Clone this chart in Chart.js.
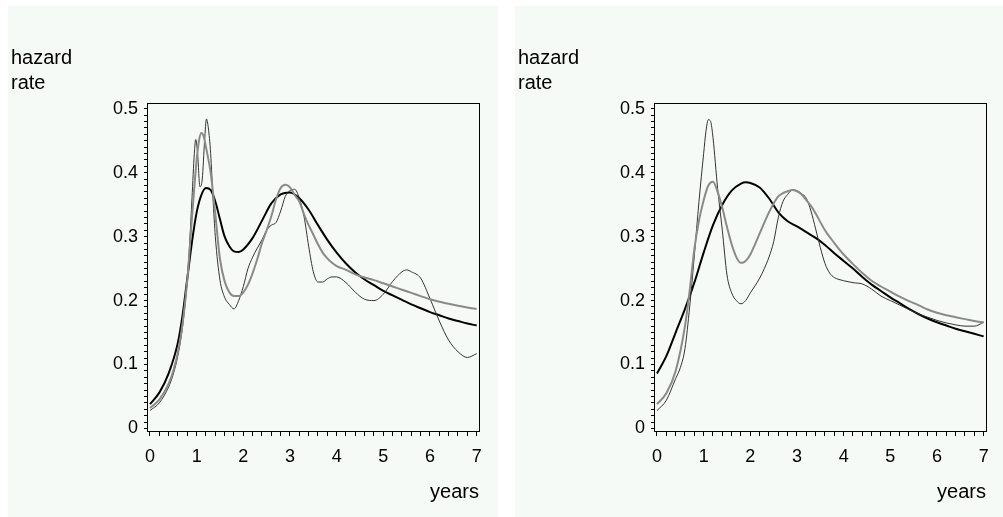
<!DOCTYPE html>
<html>
<head>
<meta charset="utf-8">
<script src="https://cdn.jsdelivr.net/npm/chart.js@4/dist/chart.umd.min.js"></script>
<style>
  body { margin: 0; background: #fff; width: 1003px; height: 517px; overflow: hidden; position: relative; }
  canvas { position: absolute; top: 6px; background: #f5faf6; }
  #left { left: 8px; }
  #right { left: 515px; }
</style>
</head>
<body>
<canvas id="left" width="490" height="511"></canvas>
<canvas id="right" width="488" height="511"></canvas>
<script>
// tick positions
const yearTicks = [];
for (let i = 0; i <= 35; i++) yearTicks.push(Math.round(i * 20) / 100);
const rateTicks = [];
for (let i = 0; i <= 50; i++) rateTicks.push(i / 100);

// left panel
const blackLx = [0,0.2,0.4,0.6,0.7,0.8,0.9,1.0,1.1,1.2,1.3,1.4,1.5,1.6,1.7,1.8,1.9,2.0,2.2,2.4,2.6,2.8,3.0,3.2,3.4,3.6,3.8,4.0,4.2,4.4,4.6,4.8,5.0,5.2,5.4,5.6,5.8,6.0,6.2,6.4,6.6,6.8,7.0];
const blackLy = [0.038,0.056,0.086,0.135,0.178,0.235,0.292,0.338,0.365,0.376,0.373,0.355,0.327,0.3,0.285,0.277,0.276,0.28,0.298,0.325,0.352,0.366,0.369,0.36,0.342,0.318,0.295,0.275,0.258,0.244,0.233,0.224,0.215,0.208,0.201,0.194,0.188,0.182,0.177,0.172,0.168,0.164,0.161];

const grayLx = [0,0.2,0.4,0.5,0.6,0.7,0.8,0.9,1.0,1.05,1.1,1.15,1.2,1.3,1.4,1.5,1.6,1.7,1.8,1.9,2.0,2.1,2.2,2.3,2.4,2.5,2.6,2.7,2.8,2.9,3.0,3.1,3.2,3.3,3.4,3.5,3.6,3.7,3.8,3.9,4.0,4.2,4.4,4.6,4.8,5.0,5.2,5.4,5.6,5.8,6.0,6.2,6.4,6.6,6.8,7.0];
const grayLy = [0.032,0.045,0.07,0.09,0.12,0.165,0.232,0.33,0.42,0.45,0.462,0.457,0.44,0.4,0.335,0.265,0.23,0.213,0.207,0.207,0.213,0.225,0.243,0.265,0.29,0.31,0.332,0.358,0.376,0.381,0.377,0.365,0.355,0.335,0.318,0.303,0.288,0.275,0.266,0.259,0.254,0.248,0.241,0.236,0.232,0.227,0.222,0.217,0.212,0.207,0.202,0.198,0.195,0.192,0.189,0.187];

const thinLx = [0,0.2,0.4,0.5,0.6,0.7,0.8,0.85,0.9,0.95,0.98,1.02,1.07,1.12,1.17,1.21,1.25,1.3,1.35,1.4,1.5,1.6,1.7,1.8,1.9,2.0,2.1,2.2,2.3,2.4,2.5,2.6,2.7,2.8,2.9,3.0,3.1,3.2,3.3,3.4,3.5,3.6,3.7,3.8,3.9,4.0,4.2,4.4,4.6,4.8,5.0,5.2,5.4,5.5,5.6,5.8,6.0,6.2,6.4,6.6,6.8,7.0];
const thinLy = [0.028,0.04,0.065,0.085,0.115,0.16,0.235,0.29,0.36,0.43,0.452,0.43,0.378,0.39,0.45,0.484,0.47,0.43,0.36,0.3,0.232,0.205,0.194,0.187,0.2,0.222,0.25,0.268,0.282,0.295,0.31,0.318,0.322,0.34,0.363,0.372,0.374,0.36,0.332,0.285,0.245,0.229,0.229,0.234,0.237,0.237,0.228,0.213,0.202,0.2,0.21,0.23,0.245,0.248,0.245,0.235,0.203,0.168,0.138,0.12,0.111,0.117];

// right panel
const blackRx = [0,0.2,0.4,0.6,0.8,1.0,1.2,1.4,1.6,1.8,1.9,2.0,2.2,2.4,2.6,2.8,3.0,3.2,3.4,3.6,3.8,4.0,4.2,4.4,4.6,4.8,5.0,5.2,5.4,5.6,5.8,6.0,6.2,6.4,6.6,6.8,7.0];
const blackRy = [0.086,0.113,0.15,0.187,0.228,0.275,0.318,0.35,0.372,0.383,0.385,0.384,0.377,0.36,0.338,0.324,0.316,0.307,0.298,0.287,0.274,0.262,0.25,0.237,0.225,0.215,0.205,0.196,0.187,0.179,0.172,0.166,0.161,0.156,0.152,0.148,0.144];

const grayRx = [0,0.2,0.4,0.6,0.7,0.8,0.9,1.0,1.1,1.2,1.3,1.4,1.5,1.6,1.7,1.8,1.9,2.0,2.1,2.2,2.3,2.4,2.5,2.6,2.7,2.8,2.9,3.0,3.1,3.2,3.3,3.4,3.6,3.8,4.0,4.2,4.4,4.6,4.8,5.0,5.2,5.4,5.6,5.8,6.0,6.2,6.4,6.6,6.8,7.0];
const grayRy = [0.038,0.055,0.09,0.16,0.215,0.28,0.325,0.357,0.38,0.386,0.37,0.345,0.315,0.288,0.268,0.259,0.262,0.272,0.288,0.305,0.322,0.338,0.352,0.363,0.368,0.371,0.373,0.371,0.366,0.357,0.348,0.336,0.31,0.29,0.272,0.257,0.243,0.231,0.222,0.214,0.206,0.199,0.193,0.186,0.181,0.177,0.174,0.171,0.168,0.166];

const thinRx = [0,0.2,0.4,0.5,0.6,0.7,0.8,0.9,1.0,1.05,1.1,1.15,1.2,1.3,1.4,1.5,1.6,1.7,1.8,1.9,2.0,2.1,2.2,2.3,2.4,2.5,2.6,2.7,2.8,2.9,3.0,3.1,3.2,3.3,3.4,3.5,3.6,3.7,3.8,3.9,4.0,4.2,4.4,4.6,4.8,5.0,5.2,5.4,5.6,5.8,6.0,6.2,6.4,6.6,6.8,7.0];
const thinRy = [0.028,0.044,0.078,0.095,0.125,0.19,0.27,0.355,0.43,0.465,0.483,0.48,0.455,0.375,0.31,0.24,0.212,0.2,0.195,0.2,0.212,0.223,0.235,0.25,0.268,0.292,0.33,0.355,0.366,0.373,0.372,0.367,0.36,0.34,0.312,0.283,0.258,0.243,0.236,0.233,0.231,0.228,0.226,0.218,0.207,0.2,0.193,0.186,0.179,0.174,0.169,0.165,0.162,0.16,0.16,0.166];

Chart.defaults.font.family = "'Liberation Sans', Arial, sans-serif";
Chart.defaults.color = '#000';

const toPoints = (xs, ys) => xs.map((x, i) => ({x: x, y: ys[i]}));

function curve(xs, ys, color, width) {
  return {
    data: toPoints(xs, ys),
    borderColor: color,
    borderWidth: width,
    pointRadius: 0,
    fill: false,
    cubicInterpolationMode: 'monotone'
  };
}

const frame = {
  id: 'frame',
  afterDatasetsDraw(chart) {
    let a = chart.chartArea;
    let ctx = chart.ctx;
    ctx.save();
    ctx.strokeStyle = '#000';
    ctx.lineWidth = 1;
    ctx.strokeRect(Math.round(a.left) + 0.5, Math.round(a.top) + 0.5,
      Math.round(a.right - a.left), Math.round(a.bottom - a.top));
    ctx.restore();
  }
};

function drawPanel(id, rightPad, sets) {
  return new Chart(document.getElementById(id), {
    type: 'line',
    data: { datasets: sets },
    plugins: [frame],
    options: {
      responsive: false,
      animation: false,
      layout: { padding: { left: 3, right: rightPad, top: 0, bottom: 0 } },
      plugins: {
        legend: { display: false },
        tooltip: { enabled: false },
        title: {
          display: true,
          text: ['hazard', 'rate'],
          align: 'start',
          font: { size: 20, weight: 'normal', lineHeight: 1.25 },
          padding: { top: 39.5, bottom: 7.5 }
        }
      },
      scales: {
        x: {
          type: 'linear',
          min: -0.064,
          max: 7.05,
          afterBuildTicks: axis => { axis.ticks = yearTicks.map(v => ({value: v})); },
          afterFit: axis => { axis.height = 86; },
          border: { display: false },
          grid: { drawOnChartArea: false, tickLength: 5, tickColor: '#000' },
          ticks: {
            autoSkip: false,
            maxRotation: 0,
            padding: 10,
            font: { size: 18 },
            callback: v => Math.abs(v - Math.round(v)) < 1e-6 ? String(Math.round(v)) : ''
          },
          title: {
            display: true,
            text: 'years',
            align: 'end',
            font: { size: 20 },
            padding: { top: 0, bottom: 13 }
          }
        },
        y: {
          min: -0.004,
          max: 0.509,
          afterBuildTicks: axis => { axis.ticks = rateTicks.map(v => ({value: v})); },
          afterFit: axis => { axis.width = 136; },
          border: { display: false },
          grid: { drawOnChartArea: false, tickLength: 3, tickColor: '#000' },
          ticks: {
            autoSkip: false,
            padding: 6,
            font: { size: 18 },
            callback: v => {
              let n = Math.round(v * 100);
              return n % 10 === 0 ? String(n / 100) : '';
            }
          }
        }
      }
    }
  });
}

drawPanel('left', 19, [
  curve(grayLx, grayLy, '#8a8a8a', 2),
  curve(thinLx, thinLy, '#333', 1),
  curve(blackLx, blackLy, '#000', 2)
]);

drawPanel('right', 17, [
  curve(grayRx, grayRy, '#8a8a8a', 2),
  curve(thinRx, thinRy, '#333', 1),
  curve(blackRx, blackRy, '#000', 2)
]);
</script>
</body>
</html>
